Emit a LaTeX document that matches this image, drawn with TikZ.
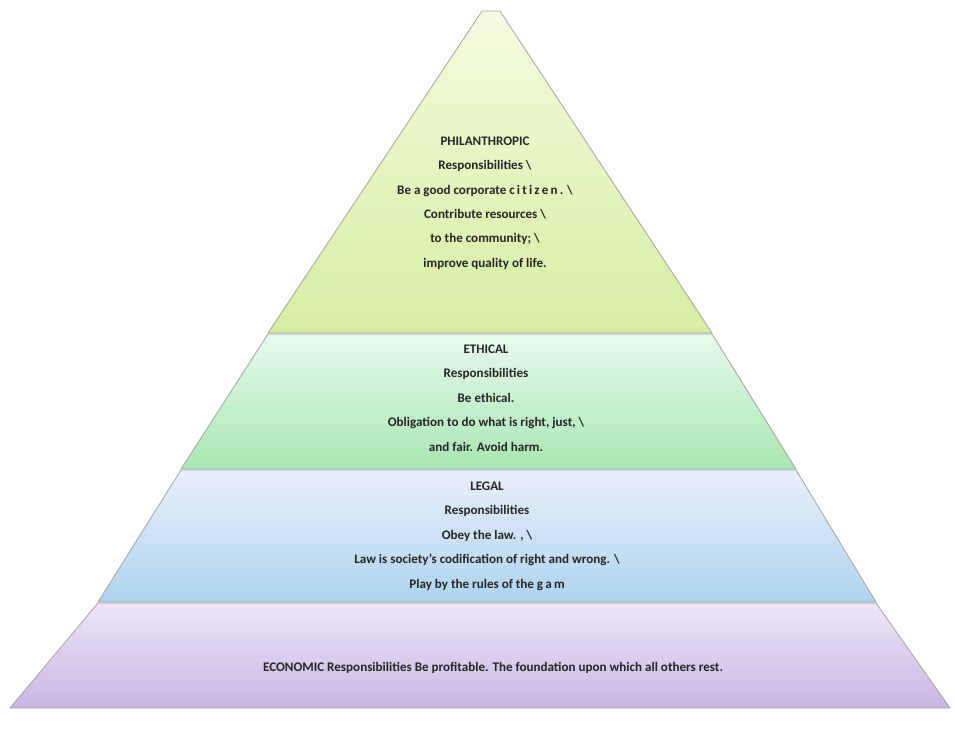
\documentclass[tikz,border=0pt]{standalone}
\usepackage{fontspec}
\setmainfont{Carlito}
\usetikzlibrary{positioning}
\definecolor{philtop}{HTML}{F4FADF}
\definecolor{philbot}{HTML}{D6EEA2}
\definecolor{ethtop}{HTML}{E6FAEC}
\definecolor{ethbot}{HTML}{A9E6B2}
\definecolor{legtop}{HTML}{E8F0FA}
\definecolor{legbot}{HTML}{AFD3EE}
\definecolor{ecotop}{HTML}{EEE6F6}
\definecolor{ecobot}{HTML}{C7B6E3}
\tikzset{
      layer/.style={
        draw=gray!70,
        line width=0.6pt,
        line join=round
      },
      layertext/.style={
        font=\bfseries\fontsize{9.3}{17.4}\selectfont,
        text=black!85,
        align=center,
        inner sep=0pt
      }
    }

\begin{document}
\begin{tikzpicture}[x=0.025cm,y=-0.025cm]
    \useasboundingbox (0,0) rectangle (955,737);
    % the four layers, top to bottom
    \path[layer, top color=philtop, bottom color=philbot] (482,11) -- (500,11) -- (712,333) -- (268,333) -- cycle;
    \path[layer, top color=ethtop, bottom color=ethbot] (268,334) -- (712,334) -- (796,469) -- (181,469) -- cycle;
    \path[layer, top color=legtop, bottom color=legbot] (181,470) -- (796,470) -- (876,602) -- (98,602) -- cycle;
    \path[layer, top color=ecotop, bottom color=ecobot] (98,603) -- (876,603) -- (950,708) -- (10,708) -- cycle;
    % texts
    \node[layertext] (phil) at (485,203) {PHILANTHROPIC\\Responsibilities \textbackslash\\Be a good corporate c\,i\,t\,i\,z\,e\,n\,. \textbackslash\\Contribute resources \textbackslash\\to the community; \textbackslash\\improve quality of life.};
    \node[layertext] (eth) at (486,398) {ETHICAL\\Responsibilities\\Be ethical.\\Obligation to do what is right, just, \textbackslash\\and fair. Avoid harm.};
    \node[layertext] (leg) at (487,536) {LEGAL\\Responsibilities\\Obey the law. , \textbackslash\\Law is society's codification of right and wrong. \textbackslash\\Play by the rules of the g\,a\,m};
    \node[layertext] (eco) at (493,668) {ECONOMIC Responsibilities Be profitable. The foundation upon which all others rest.};
\end{tikzpicture}
\end{document}
